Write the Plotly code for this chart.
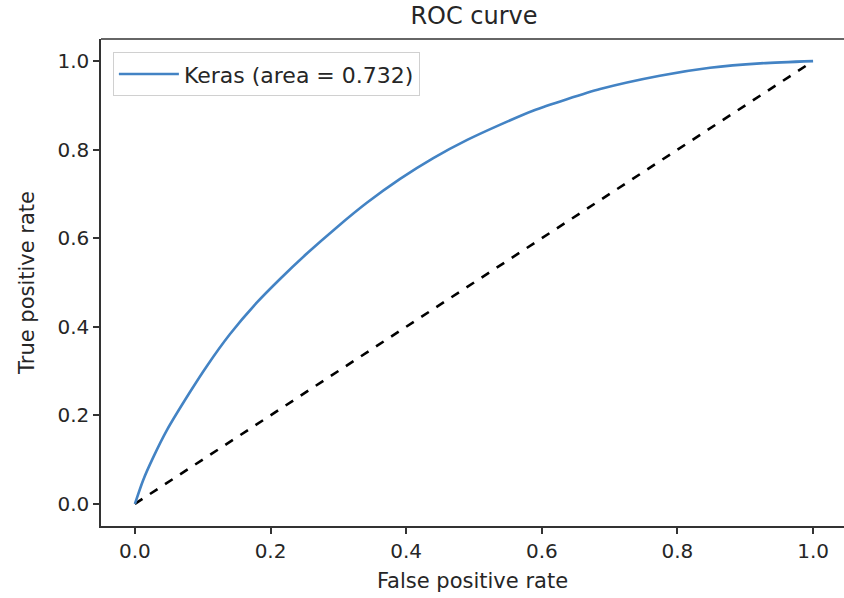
import plotly.graph_objects as go

# ROC curve points (false positive rate, true positive rate)
fpr = [0.0, 0.012, 0.027, 0.047, 0.081, 0.106, 0.140, 0.180, 0.214, 0.254, 0.298,
       0.342, 0.391, 0.440, 0.490, 0.538, 0.587, 0.637, 0.686, 0.774, 0.848, 0.922, 1.0]
tpr = [0.0, 0.053, 0.105, 0.166, 0.252, 0.311, 0.383, 0.455, 0.508, 0.566, 0.625,
       0.680, 0.734, 0.781, 0.822, 0.856, 0.888, 0.914, 0.937, 0.967, 0.985, 0.995, 1.0]
auc_label = "Keras (area = 0.732)"

# chance diagonal
diag_x = [0.0, 1.0]
diag_y = [0.0, 1.0]

tick_vals = [0.0, 0.2, 0.4, 0.6, 0.8, 1.0]
tick_text = ["0.0", "0.2", "0.4", "0.6", "0.8", "1.0"]

FONT = "DejaVu Sans"
TXT = "#262626"
SPINE = "#333333"

fig = go.Figure()
fig.add_trace(go.Scatter(x=diag_x, y=diag_y, mode="lines",
                         line=dict(color="black", width=2.6, dash="dash"),
                         showlegend=False, hoverinfo="skip"))
fig.add_trace(go.Scatter(x=fpr, y=tpr, mode="lines", name=auc_label,
                         line=dict(color="#4383c4", width=2.6, shape="spline",
                                   smoothing=0.7)))

axis_common = dict(
    showgrid=False, zeroline=False, showline=True, linecolor=SPINE, linewidth=1.5,
    ticks="outside", ticklen=6, tickwidth=1.5, tickcolor=SPINE,
    tickvals=tick_vals, ticktext=tick_text,
    tickfont=dict(family=FONT, size=20, color=TXT),
)

fig.update_layout(
    width=844, height=598,
    margin=dict(l=101, r=0, t=39, b=72),
    paper_bgcolor="white", plot_bgcolor="white",
    title=dict(text="ROC curve", x=0.502, xref="paper", xanchor="center",
               y=1 - 16 / 598, yref="container", yanchor="middle",
               font=dict(family=FONT, size=24, color=TXT)),
    xaxis=dict(axis_common, range=[-0.05, 1.0456],
               title=dict(text="False positive rate", standoff=12,
                          font=dict(family=FONT, size=21, color=TXT))),
    yaxis=dict(axis_common, range=[-0.05, 1.05],
               title=dict(text="True positive rate", standoff=17,
                          font=dict(family=FONT, size=21, color=TXT))),
    legend=dict(x=0.016, y=0.973, xanchor="left", yanchor="top",
                bgcolor="rgba(255,255,255,0.8)", bordercolor="#d0d0d0", borderwidth=1,
                itemwidth=60,
                font=dict(family=FONT, size=22, color=TXT)),
    shapes=[dict(type="line", xref="paper", yref="paper", x0=0, x1=1, y0=1, y1=1,
                 line=dict(color=SPINE, width=1.5))],
)

fig.write_html("out.html")
